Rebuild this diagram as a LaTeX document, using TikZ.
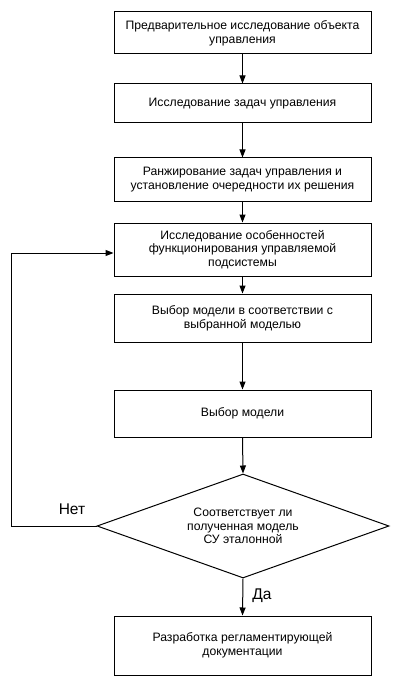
\documentclass[tikz,border=0pt]{standalone}
\usepackage{fontspec}
\setmainfont{Liberation Sans}
\usetikzlibrary{arrows.meta,shapes.geometric}
\begin{document}
\begin{tikzpicture}[x=1pt,y=-1pt,
  box/.style={draw,line width=1pt,minimum width=257pt,align=center,inner sep=0pt,
    font=\fontsize{12.2}{13.8}\selectfont},
  arr/.style={-{Triangle[length=8pt,width=6pt]},line width=1pt},
  lbl/.style={font=\fontsize{15.5}{17}\selectfont,inner sep=0pt}]
\useasboundingbox (0,0) rectangle (400,687);
\node[box,minimum height=42pt] (b1) at (242.5,33) {Предварительное исследование объекта\\управления};
\node[box,minimum height=39pt] (b2) at (242.5,103.5) {Исследование задач управления};
\node[box,minimum height=43pt] (b3) at (242.5,179.5) {Ранжирование задач управления и\\установление очередности их решения};
\node[box,minimum height=53pt] (b4) at (242.5,249.5) {Исследование особенностей\\функционирования управляемой\\подсистемы};
\node[box,minimum height=48pt] (b5) at (242.5,318) {Выбор модели в соответствии с\\выбранной моделью};
\node[box,minimum height=47pt] (b6) at (242.5,413.5) {Выбор модели};
\node[draw,line width=1pt,diamond,aspect=2.8,minimum width=292pt,minimum height=104pt,inner sep=0pt,
  align=center,font=\fontsize{12.2}{13.3}\selectfont] (d) at (243,526) {Соответствует ли\\полученная модель\\СУ эталонной};
\node[box,minimum height=59pt] (b7) at (242.5,645.5) {Разработка регламентирующей\\документации};
\draw[arr] (b1.south) -- (b2.north);
\draw[arr] (b2.south) -- (b3.north);
\draw[arr] (b3.south) -- (b4.north);
\draw[arr] (b4.south) -- (b5.north);
\draw[arr] (b5.south) -- (b6.north);
\draw[arr] (b6.south) -- (d.north);
\draw[arr] (d.south) -- (b7.north);
\draw[arr] (d.west) -- ++(-85,0) |- ([yshift=-3.5pt]b4.west);
\node[lbl] (net) at (72,509) {Нет};
\node[lbl] (da) at (262,596) {Да};
\end{tikzpicture}
\end{document}
